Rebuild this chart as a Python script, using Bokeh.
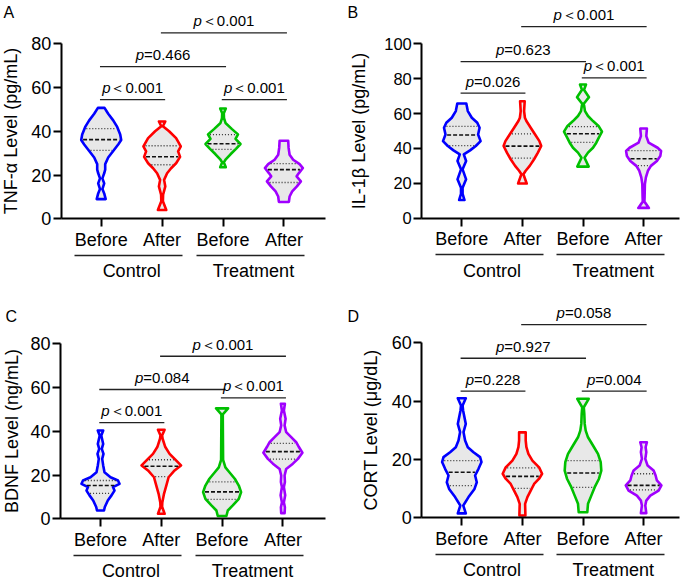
import numpy as np
from bokeh.plotting import figure
from bokeh.layouts import column, row
from bokeh.models import Range1d, FixedTicker, LinearAxis
from bokeh.core.properties import value
from bokeh.embed import file_html
from bokeh.resources import INLINE

FONT = "Liberation Sans"

# ------------------------------------------------------------------ data
categories = ["Before", "After", "Before", "After"]
groups = ["Control", "Treatment"]
group_members = [(0, 1), (2, 3)]
violin_colors = ["#0000FF", "#FF0000", "#00C000", "#A000FF"]

# Violin outlines: level values (top -> bottom) and relative density width
# Panel A: TNF-alpha (pg/mL)
tnf_ctrl_before_y = [50.7, 48, 45, 42, 38.5, 36, 34, 31, 28, 25, 22.5, 20.8, 18.5, 16.2, 13.6, 11.6, 9.0]
tnf_ctrl_before_w = [3.3, 7, 12, 16, 19, 20, 17, 12, 7, 4, 4, 3, 1.2, 3, 1.2, 3, 4.5]
tnf_ctrl_after_y = [44.5, 42.3, 40, 36.9, 33.1, 30.8, 28.3, 25.4, 23.1, 20.8, 17.8, 14.8, 11.0, 8.0, 4.0]
tnf_ctrl_after_w = [3.2, 0.8, 7, 14, 18.7, 16, 18, 14, 9, 5, 2, 3.2, 1, 0.8, 4.2]
tnf_trt_before_y = [50.4, 48.2, 46.0, 43.8, 41.0, 38.6, 36.5, 34.2, 32.0, 29.5, 27.0, 25.8, 23.6]
tnf_trt_before_w = [2.8, 0.8, 1.0, 2.5, 9, 15, 12.5, 17.5, 13, 7.5, 2.5, 0.8, 2.8]
tnf_trt_after_y = [35.7, 32.4, 29.3, 27.0, 25.0, 23.2, 20.9, 19.4, 17.1, 14.8, 12.5, 10.2, 7.7]
tnf_trt_after_w = [4.3, 4.7, 5.7, 9.3, 15.7, 19, 15, 12.7, 17, 13, 8.3, 5.7, 5]
tnf_quartiles = [[41.2, 36.2, 31.3], [33.4, 28.4, 24.7], [38.5, 34.3, 31.7], [25.2, 22.5, 16.6]]
tnf_pairs = [(0, 1), (2, 3), (0, 2), (1, 3)]
tnf_p = ["＜0.001", "＜0.001", "=0.466", "＜0.001"]

# Panel B: IL-1beta (pg/mL)
il_ctrl_before_y = [65.8, 61.4, 57.6, 54.7, 51.9, 48.0, 44.2, 41.4, 38.9, 36.6, 32.8, 28.0, 22.3, 17.5, 14.0, 10.4]
il_ctrl_before_w = [4.5, 6, 10, 15.5, 17.8, 16.3, 18.8, 14, 8.3, 2.0, 4.3, 0.8, 4.3, 0.8, 0.8, 2.7]
il_ctrl_after_y = [67.1, 61.4, 57.6, 55.7, 51.9, 48.0, 44.2, 41.4, 37.6, 33.8, 30.0, 27.2, 25.2, 19.9]
il_ctrl_after_w = [2.3, 1.7, 2.5, 4, 8.3, 12.7, 17, 18.8, 15.5, 11.7, 7.3, 3.3, 1, 4.3]
il_trt_before_y = [76.7, 73.6, 69.4, 65.6, 61.4, 58.6, 55.7, 52.9, 49.6, 46.1, 43.3, 40.4, 37.6, 34.7, 29.6]
il_trt_before_w = [3, 1, 6, 0.8, 2, 5, 10, 15.5, 19, 15.7, 13.3, 10, 5, 1.5, 5.7]
il_trt_after_y = [51.4, 47.1, 43.3, 40.4, 38.5, 35.6, 32.8, 30.0, 27.2, 23.4, 19.6, 12.0, 9.5, 5.9]
il_trt_after_w = [3.3, 2.7, 5, 14, 17.5, 16.7, 13.3, 7.3, 4.3, 2.3, 1.3, 1, 0.8, 5.3]
il_quartiles = [[52.7, 47.7, 41.6], [48.4, 41.3, 34.5], [52.5, 48.4, 43.5], [38.8, 34.1, 30.1]]
il_pairs = [(0, 1), (2, 3), (0, 2), (1, 3)]
il_p = ["=0.026", "＜0.001", "=0.623", "＜0.001"]

# Panel C: BDNF (ng/mL)
bdnf_ctrl_before_y = [40.4, 38.1, 34.2, 32.0, 29.7, 27.4, 24.4, 21.3, 19.0, 17.5, 16.0, 14.5, 12.9, 10.7, 8.4, 5.4, 3.8]
bdnf_ctrl_before_w = [2.7, 0.8, 2.7, 1.3, 3, 1.7, 2.7, 4, 10, 17.5, 19, 12.5, 14, 11, 7.3, 4.3, 3.5]
bdnf_ctrl_after_y = [40.7, 38.1, 36.6, 32.8, 29.7, 27.4, 24.4, 22.1, 19.0, 15.2, 11.4, 7.5, 5.5, 2.3]
bdnf_ctrl_after_w = [3.3, 0.8, 1.3, 4, 8.3, 13.3, 19.7, 13.3, 7.3, 5, 2.7, 1, 0.8, 3.3]
bdnf_trt_before_y = [50.5, 47.7, 45.0, 26.9, 23.5, 21.3, 18.3, 15.2, 12.2, 9.1, 6.1, 3.8, 1.3]
bdnf_trt_before_w = [6, 0.7, 0.7, 1, 3.3, 7.3, 12.7, 16.7, 19, 16.7, 10.7, 5.7, 4.3]
bdnf_trt_after_y = [52.6, 49.5, 45.7, 42.7, 39.6, 37.3, 35.0, 32.8, 30.2, 27.4, 25.2, 22.8, 19.8, 16.8, 14.5, 10.8, 7.5, 5.3, 2.6]
bdnf_trt_after_w = [2, 1, 2.7, 1.7, 3.3, 8.3, 13.3, 16, 19.5, 15, 10, 3.3, 1.7, 2, 1, 2.3, 1, 2, 1.7]
bdnf_quartiles = [[17.5, 15.2, 11.6], [27.0, 24.0, 19.3], [16.9, 12.3, 8.9], [34.5, 30.7, 27.3]]
bdnf_pairs = [(0, 1), (2, 3), (0, 2), (1, 3)]
bdnf_p = ["＜0.001", "＜0.001", "=0.084", "＜0.001"]

# Panel D: CORT (ug/dL)
cort_ctrl_before_y = [41.0, 38.5, 36.8, 32.2, 29.4, 26.5, 24.2, 22.5, 20.8, 19.1, 16.8, 14.5, 12.2, 9.9, 7.1, 4.2, 1.5]
cort_ctrl_before_w = [4, 0.8, 1.3, 4, 1.7, 3.3, 6, 11.7, 18.3, 19.7, 16.7, 13.3, 15, 12.7, 6.7, 1.5, 4]
cort_ctrl_after_y = [29.3, 26.5, 24.2, 21.9, 19.6, 17.3, 15.1, 13.4, 11.6, 9.3, 7.1, 4.8, 0.8]
cort_ctrl_after_w = [3.3, 3.3, 4, 6, 10, 16.7, 19.7, 16.7, 11.7, 8.3, 5, 2.7, 3]
cort_trt_before_y = [40.8, 37.9, 35.6, 32.2, 29.9, 27.6, 24.8, 21.9, 19.1, 16.2, 13.4, 10.5, 7.6, 4.8, 1.9]
cort_trt_before_w = [5.7, 0.8, 1.3, 1.7, 2.7, 5, 10, 15, 17.7, 18.3, 16, 11.7, 8.3, 5, 4.3]
cort_trt_after_y = [25.9, 24.2, 22.5, 20.2, 17.9, 16.2, 14.5, 12.8, 11.1, 9.3, 7.6, 5.9, 4.2, 1.6]
cort_trt_after_w = [3.3, 2, 2.7, 1.7, 4, 10, 12, 13.3, 17.8, 15, 6.7, 2.7, 1.7, 2.7]
cort_quartiles = [[19.6, 15.6, 11.0], [17.1, 14.2, 10.1], [19.6, 15.35, 10.4], [15.1, 11.1, 9.6]]
cort_pairs = [(0, 1), (2, 3), (0, 2), (1, 3)]
cort_p = ["=0.228", "=0.004", "=0.927", "=0.058"]

# ------------------------------------------------------------------ layout settings
# px values below are figure-pixel layout positions (not data)
panels = [
    dict(letter="A", ylabel="TNF-α Level (pg/mL)", ymax=80, ystep=20,
         violins=[(tnf_ctrl_before_y, tnf_ctrl_before_w), (tnf_ctrl_after_y, tnf_ctrl_after_w),
                  (tnf_trt_before_y, tnf_trt_before_w), (tnf_trt_after_y, tnf_trt_after_w)],
         quart=tnf_quartiles, pairs=tnf_pairs, ptext=tnf_p, levels=[54.5, 54.5, 69.6, 85.0],
         W=344, H=290, cat0=100.7, axis_px=60.7, end_px=325, y0=218.3, pxx=60.9, pxy=2.1875,
         tick_fs="18px", lab_sd=7, letter_xy=(3, 3.7)),
    dict(letter="B", ylabel="IL-1β Level (pg/mL)", ymax=100, ystep=20,
         violins=[(il_ctrl_before_y, il_ctrl_before_w), (il_ctrl_after_y, il_ctrl_after_w),
                  (il_trt_before_y, il_trt_before_w), (il_trt_after_y, il_trt_after_w)],
         quart=il_quartiles, pairs=il_pairs, ptext=il_p, levels=[71.7, 80.5, 89.8, 109.9],
         W=336, H=290, cat0=117.3, axis_px=77.3, end_px=335, y0=217.7, pxx=60.6, pxy=1.744,
         tick_fs="16.5px", lab_sd=12, letter_xy=(3, 3.7)),
    dict(letter="C", ylabel="BDNF Level (ng/mL)", ymax=80, ystep=20,
         violins=[(bdnf_ctrl_before_y, bdnf_ctrl_before_w), (bdnf_ctrl_after_y, bdnf_ctrl_after_w),
                  (bdnf_trt_before_y, bdnf_trt_before_w), (bdnf_trt_after_y, bdnf_trt_after_w)],
         quart=bdnf_quartiles, pairs=bdnf_pairs, ptext=bdnf_p, levels=[44.0, 55.3, 59.1, 74.3],
         W=344, H=290, cat0=100.0, axis_px=60.0, end_px=325, y0=228.3, pxx=60.8, pxy=2.1875,
         tick_fs="18px", lab_sd=5, letter_xy=(5, 17.7)),
    dict(letter="D", ylabel="CORT Level (μg/dL)", ymax=60, ystep=20,
         violins=[(cort_ctrl_before_y, cort_ctrl_before_w), (cort_ctrl_after_y, cort_ctrl_after_w),
                  (cort_trt_before_y, cort_trt_before_w), (cort_trt_after_y, cort_trt_after_w)],
         quart=cort_quartiles, pairs=cort_pairs, ptext=cort_p, levels=[43.4, 43.4, 54.7, 66.2],
         W=336, H=290, cat0=117.3, axis_px=77.3, end_px=335, y0=227.3, pxx=60.6, pxy=2.9167,
         tick_fs="18px", lab_sd=7, letter_xy=(3, 17.7)),
]

CHAR_W = {"p": 0.556, "=": 0.584, "＜": 1.0, "<": 0.584, ".": 0.278}
P_FS = 15


def text_width(s, fs):
    return sum(CHAR_W.get(c, 0.556) for c in s) * fs


def make_panel(cfg):
    W, H = cfg["W"], cfg["H"]
    pxx, pxy, cat0, y0 = cfg["pxx"], cfg["pxy"], cfg["cat0"], cfg["y0"]
    fx = lambda px: (px - cat0) / pxx       # figure px -> x data
    fy = lambda py: (y0 - py) / pxy         # figure px -> y data
    x_axis_at = fx(cfg["axis_px"])

    p = figure(width=W, height=H, output_backend="svg", toolbar_location=None,
               title=None, x_range=Range1d(fx(0), fx(W)), y_range=Range1d(fy(H), fy(0)),
               x_axis_location=None, y_axis_location=None,
               min_border_left=0, min_border_right=0, min_border_top=0, min_border_bottom=0)
    p.grid.visible = False
    p.outline_line_color = None
    p.background_fill_color = "white"
    p.border_fill_color = "white"

    # y axis
    ya = LinearAxis(fixed_location=x_axis_at,
                    ticker=FixedTicker(ticks=list(range(0, cfg["ymax"] + 1, cfg["ystep"]))),
                    bounds=(0, cfg["ymax"]), axis_line_width=2, axis_line_color="black",
                    major_tick_line_width=2, major_tick_line_color="black",
                    major_tick_out=8, major_tick_in=0, minor_tick_line_color=None,
                    major_label_standoff=2, major_label_text_font=FONT,
                    major_label_text_font_size=cfg["tick_fs"], major_label_text_color="black",
                    axis_label=cfg["ylabel"], axis_label_text_font=FONT,
                    axis_label_text_font_size="18px", axis_label_text_font_style="normal",
                    axis_label_text_color="black", axis_label_standoff=cfg["lab_sd"])
    p.add_layout(ya, "left")

    # x axis on y = 0
    xa = LinearAxis(fixed_location=0, ticker=FixedTicker(ticks=[0, 1, 2, 3]),
                    bounds=(x_axis_at, fx(cfg["end_px"])),
                    major_label_overrides={i: c for i, c in enumerate(categories)},
                    axis_line_width=2, axis_line_color="black",
                    major_tick_line_width=2, major_tick_line_color="black",
                    major_tick_out=8, major_tick_in=0, minor_tick_line_color=None,
                    major_label_standoff=3, major_label_text_font=FONT,
                    major_label_text_font_size="18px", major_label_text_color="black")
    p.add_layout(xa, "below")

    # group axes (underline + group name)
    gy = -36.5 / pxy
    for gname, (a, b) in zip(groups, group_members):
        mid = (a + b) / 2
        ga = LinearAxis(fixed_location=gy, bounds=(a - 0.44, b + 0.34),
                        ticker=FixedTicker(ticks=[mid]), major_label_overrides={mid: gname},
                        axis_line_width=1.3, axis_line_color="#222222",
                        major_tick_line_color=None, major_tick_out=0, major_tick_in=0,
                        minor_tick_line_color=None, major_label_standoff=6,
                        major_label_text_font=FONT, major_label_text_font_size="18px",
                        major_label_text_color="black")
        p.add_layout(ga, "below")

    # violins
    s = 1.0 / pxx
    for i, ((vy, vw), col) in enumerate(zip(cfg["violins"], violin_colors)):
        vy = np.asarray(vy, float)
        vw = np.asarray(vw, float) * s
        xs = np.concatenate([i + vw, (i - vw)[::-1]])
        ys = np.concatenate([vy, vy[::-1]])
        p.patch(xs, ys, fill_color="#E8E8E8", line_color=col, line_width=2.6, line_join="round")
        q3, med, q1 = cfg["quart"][i]
        for lvl, dash, lw, lc in [(q3, "1 2", 1.3, "#333333"), (med, "4 2", 1.6, "#111111"),
                                  (q1, "1 2", 1.3, "#333333")]:
            hw = np.interp(lvl, vy[::-1], vw[::-1]) - 1.8 * s
            p.segment(x0=[i - hw], y0=[lvl], x1=[i + hw], y1=[lvl], line_color=lc,
                      line_width=lw, line_dash=dash)

    # significance brackets
    bx0, bx1, by, cx, rest, offs = [], [], [], [], [], []
    for (a, b), txt, lvl in zip(cfg["pairs"], cfg["ptext"], cfg["levels"]):
        bx0.append(a - 0.02)
        bx1.append(b + 0.05)
        by.append(lvl)
        cx.append((a + b) / 2 + 0.015)
        tot = text_width("p" + txt, P_FS)
        offs.append(-tot / 2 + text_width("p", P_FS))
        rest.append(txt)
    p.segment(x0=bx0, y0=by, x1=bx1, y1=by, line_color="#222222", line_width=1.3)
    p.text(x=cx, y=by, text=["p"] * len(cx), x_offset=offs, y_offset=[-12] * len(cx),
           text_align="right", text_baseline="alphabetic", text_font=value(FONT),
           text_font_style="italic", text_font_size=f"{P_FS}px", text_color="black")
    p.text(x=cx, y=by, text=rest, x_offset=offs, y_offset=[-12] * len(cx),
           text_align="left", text_baseline="alphabetic", text_font=value(FONT),
           text_font_size=f"{P_FS}px", text_color="black")

    # panel letter
    lx, ly = cfg["letter_xy"]
    p.text(x=[fx(lx)], y=[fy(ly)], text=[cfg["letter"]], text_align="left", text_baseline="top",
           text_font=value(FONT), text_font_size="16px", text_color="black")
    return p


figs = [make_panel(c) for c in panels]
layout = column(row(figs[0], figs[1]), row(figs[2], figs[3]))
open("out.html", "w").write(file_html(layout, INLINE))
